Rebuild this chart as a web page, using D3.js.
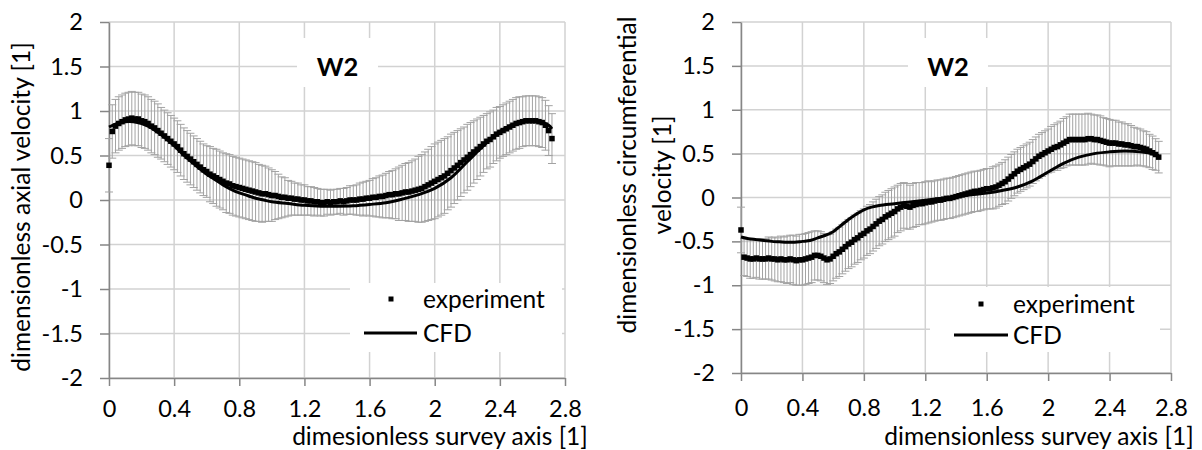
<!DOCTYPE html>
<html>
<head>
<meta charset="utf-8">
<script src="https://cdn.jsdelivr.net/npm/d3@7"></script>
<style>
  body { margin: 0; background: #ffffff; }
  svg { display: block; }
  text { font-family: Lato, "Noto Sans", sans-serif; fill: #000; }
</style>
</head>
<body>
<svg id="chart" width="1202" height="450"></svg>
<script>
// Survey positions of the measured points (dimensionless survey axis)
const surveyX = [
  0, 0.02, 0.04, 0.06, 0.08, 0.1, 0.12, 0.14, 0.16, 0.18,
  0.2, 0.22, 0.24, 0.26, 0.28, 0.3, 0.32, 0.34, 0.36, 0.38,
  0.4, 0.42, 0.44, 0.46, 0.48, 0.5, 0.52, 0.54, 0.56, 0.58,
  0.6, 0.62, 0.64, 0.66, 0.68, 0.7, 0.72, 0.74, 0.76, 0.78,
  0.8, 0.82, 0.84, 0.86, 0.88, 0.9, 0.92, 0.94, 0.96, 0.98,
  1, 1.02, 1.04, 1.06, 1.08, 1.1, 1.12, 1.14, 1.16, 1.18,
  1.2, 1.22, 1.24, 1.26, 1.28, 1.3, 1.32, 1.34, 1.36, 1.38,
  1.4, 1.42, 1.44, 1.46, 1.48, 1.5, 1.52, 1.54, 1.56, 1.58,
  1.6, 1.62, 1.64, 1.66, 1.68, 1.7, 1.72, 1.74, 1.76, 1.78,
  1.8, 1.82, 1.84, 1.86, 1.88, 1.9, 1.92, 1.94, 1.96, 1.98,
  2, 2.02, 2.04, 2.06, 2.08, 2.1, 2.12, 2.14, 2.16, 2.18,
  2.2, 2.22, 2.24, 2.26, 2.28, 2.3, 2.32, 2.34, 2.36, 2.38,
  2.4, 2.42, 2.44, 2.46, 2.48, 2.5, 2.52, 2.54, 2.56, 2.58,
  2.6, 2.62, 2.64, 2.66, 2.68, 2.7, 2.72
];

// Axial velocity, experiment (mean and error half-width)
const axialExp = [
  0.39, 0.77, 0.83, 0.86, 0.88, 0.90, 0.91, 0.92, 0.91, 0.91,
  0.89, 0.88, 0.86, 0.83, 0.81, 0.78, 0.75, 0.72, 0.69, 0.66,
  0.63, 0.60, 0.56, 0.52, 0.49, 0.46, 0.43, 0.40, 0.37, 0.34,
  0.32, 0.29, 0.27, 0.25, 0.23, 0.21, 0.19, 0.18, 0.16, 0.15,
  0.14, 0.13, 0.12, 0.11, 0.10, 0.09, 0.08, 0.07, 0.07, 0.06,
  0.05, 0.05, 0.04, 0.03, 0.03, 0.02, 0.02, 0.01, 0.01, 0.00,
  0.00, -0.01, -0.01, -0.02, -0.02, -0.03, -0.03, -0.02, -0.03, -0.02,
  -0.02, -0.01, -0.02, -0.01, 0.00, 0.00, 0.00, 0.01, 0.01, 0.02,
  0.02, 0.03, 0.03, 0.04, 0.04, 0.05, 0.06, 0.06, 0.07, 0.07,
  0.08, 0.09, 0.09, 0.10, 0.11, 0.12, 0.13, 0.15, 0.17, 0.19,
  0.21, 0.23, 0.25, 0.27, 0.30, 0.33, 0.36, 0.39, 0.42, 0.45,
  0.48, 0.51, 0.54, 0.57, 0.60, 0.63, 0.66, 0.68, 0.71, 0.74,
  0.76, 0.78, 0.80, 0.82, 0.84, 0.86, 0.87, 0.88, 0.89, 0.89,
  0.89, 0.89, 0.88, 0.87, 0.84, 0.78, 0.69
];
const axialErr = [
  0.30, 0.30, 0.30, 0.30, 0.30, 0.30, 0.30, 0.30, 0.30, 0.30,
  0.30, 0.30, 0.30, 0.30, 0.30, 0.30, 0.29, 0.29, 0.29, 0.29,
  0.29, 0.29, 0.29, 0.29, 0.29, 0.29, 0.29, 0.29, 0.29, 0.29,
  0.29, 0.31, 0.31, 0.32, 0.32, 0.32, 0.33, 0.33, 0.33, 0.33,
  0.33, 0.33, 0.33, 0.33, 0.33, 0.33, 0.32, 0.32, 0.31, 0.30,
  0.29, 0.27, 0.25, 0.23, 0.22, 0.20, 0.19, 0.18, 0.18, 0.17,
  0.17, 0.16, 0.16, 0.16, 0.15, 0.15, 0.15, 0.14, 0.14, 0.14,
  0.14, 0.14, 0.15, 0.15, 0.16, 0.16, 0.17, 0.18, 0.19, 0.19,
  0.20, 0.21, 0.22, 0.23, 0.24, 0.25, 0.26, 0.27, 0.28, 0.30,
  0.31, 0.32, 0.33, 0.34, 0.35, 0.37, 0.38, 0.39, 0.40, 0.41,
  0.42, 0.42, 0.42, 0.42, 0.41, 0.41, 0.40, 0.39, 0.38, 0.37,
  0.37, 0.36, 0.35, 0.34, 0.33, 0.32, 0.31, 0.31, 0.30, 0.30,
  0.29, 0.29, 0.29, 0.29, 0.29, 0.29, 0.29, 0.28, 0.28, 0.28,
  0.28, 0.28, 0.28, 0.28, 0.28, 0.28, 0.28
];

// Axial velocity, CFD
const axialCfdX = [0, 0.05, 0.1, 0.15, 0.2, 0.25, 0.3, 0.35, 0.4, 0.45, 0.5, 0.55, 0.6, 0.65, 0.7, 0.75, 0.8, 0.85, 0.9, 0.95,
  1, 1.1, 1.2, 1.3, 1.4, 1.5, 1.6, 1.7, 1.8, 1.9, 2, 2.1, 2.2, 2.3, 2.4, 2.5, 2.55, 2.6, 2.65, 2.7, 2.72];
const axialCfd = [0.82, 0.86, 0.88, 0.88, 0.86, 0.82, 0.76, 0.69, 0.61, 0.52, 0.44, 0.36, 0.29, 0.23, 0.17, 0.12, 0.08, 0.05, 0.02, 0.00,
  -0.02, -0.04, -0.06, -0.07, -0.07, -0.065, -0.05, -0.03, 0.01, 0.06, 0.13, 0.25, 0.43, 0.61, 0.77, 0.86, 0.88, 0.89, 0.88, 0.84, 0.80];

// Circumferential velocity, experiment (mean and error half-width)
const circExp = [
  -0.37, -0.68, -0.69, -0.70, -0.70, -0.69, -0.70, -0.70, -0.70, -0.69,
  -0.70, -0.70, -0.71, -0.70, -0.71, -0.71, -0.70, -0.71, -0.72, -0.71,
  -0.71, -0.70, -0.69, -0.68, -0.66, -0.66, -0.67, -0.69, -0.71, -0.70,
  -0.67, -0.64, -0.62, -0.59, -0.56, -0.53, -0.51, -0.48, -0.46, -0.43,
  -0.41, -0.38, -0.36, -0.33, -0.30, -0.27, -0.25, -0.22, -0.20, -0.18,
  -0.16, -0.13, -0.11, -0.09, -0.10, -0.11, -0.09, -0.08, -0.07, -0.07,
  -0.06, -0.05, -0.05, -0.04, -0.03, -0.03, -0.02, -0.01, -0.01, 0.00,
  0.01, 0.02, 0.03, 0.04, 0.05, 0.06, 0.07, 0.07, 0.08, 0.09,
  0.10, 0.10, 0.11, 0.12, 0.14, 0.16, 0.18, 0.21, 0.24, 0.27,
  0.30, 0.32, 0.34, 0.36, 0.38, 0.41, 0.44, 0.47, 0.49, 0.51,
  0.53, 0.55, 0.57, 0.58, 0.60, 0.62, 0.64, 0.66, 0.66, 0.66,
  0.66, 0.66, 0.66, 0.67, 0.67, 0.66, 0.66, 0.65, 0.64, 0.63,
  0.62, 0.62, 0.62, 0.61, 0.61, 0.60, 0.60, 0.59, 0.58, 0.58,
  0.57, 0.56, 0.55, 0.53, 0.51, 0.49, 0.46
];
const circErr = [
  0.26, 0.21, 0.21, 0.22, 0.22, 0.22, 0.23, 0.23, 0.23, 0.24,
  0.24, 0.25, 0.25, 0.26, 0.26, 0.27, 0.27, 0.28, 0.28, 0.29,
  0.29, 0.29, 0.29, 0.29, 0.28, 0.28, 0.28, 0.28, 0.28, 0.28,
  0.28, 0.28, 0.28, 0.28, 0.28, 0.28, 0.28, 0.28, 0.28, 0.28,
  0.28, 0.28, 0.28, 0.28, 0.28, 0.28, 0.28, 0.28, 0.28, 0.28,
  0.28, 0.27, 0.27, 0.26, 0.26, 0.25, 0.25, 0.25, 0.24, 0.24,
  0.24, 0.24, 0.23, 0.23, 0.23, 0.23, 0.23, 0.23, 0.23, 0.23,
  0.23, 0.23, 0.23, 0.23, 0.23, 0.23, 0.23, 0.23, 0.23, 0.23,
  0.23, 0.23, 0.24, 0.24, 0.24, 0.24, 0.25, 0.25, 0.25, 0.25,
  0.25, 0.25, 0.25, 0.25, 0.25, 0.25, 0.25, 0.25, 0.25, 0.25,
  0.25, 0.26, 0.26, 0.27, 0.27, 0.28, 0.28, 0.29, 0.29, 0.29,
  0.29, 0.29, 0.29, 0.29, 0.28, 0.28, 0.28, 0.28, 0.27, 0.27,
  0.27, 0.26, 0.26, 0.25, 0.25, 0.24, 0.24, 0.23, 0.22, 0.21,
  0.21, 0.20, 0.20, 0.19, 0.19, 0.18, 0.18
];

// Circumferential velocity, CFD
const circCfdX = [0, 0.05, 0.1, 0.15, 0.2, 0.25, 0.3, 0.35, 0.4, 0.45, 0.5, 0.55, 0.6, 0.65, 0.7, 0.75, 0.8, 0.85, 0.9,
  1, 1.1, 1.2, 1.3, 1.4, 1.5, 1.6, 1.7, 1.8, 1.9, 2, 2.1, 2.2, 2.3, 2.4, 2.5, 2.6, 2.7, 2.72];
const circCfd = [-0.45, -0.47, -0.48, -0.49, -0.50, -0.505, -0.51, -0.51, -0.50, -0.49, -0.46, -0.43, -0.39, -0.32, -0.25, -0.19, -0.14, -0.11, -0.09,
  -0.07, -0.05, -0.03, -0.01, 0.01, 0.03, 0.05, 0.08, 0.12, 0.19, 0.29, 0.39, 0.46, 0.50, 0.52, 0.53, 0.52, 0.49, 0.48];

// Axis ticks
const xTicks = [0, 0.4, 0.8, 1.2, 1.6, 2, 2.4, 2.8];
const xTickLabels = ["0", "0.4", "0.8", "1.2", "1.6", "2", "2.4", "2.8"];
const yTicks = [-2, -1.5, -1, -0.5, 0, 0.5, 1, 1.5, 2];
const yTickLabels = ["-2", "-1.5", "-1", "-0.5", "0", "0.5", "1", "1.5", "2"];

const legendLabels = ["experiment", "CFD"];
const panelTitle = "W2";

const svg = d3.select("#chart");
const TICK_FONT = 23.5;
const FONT = 24.5;
const GRID = "#d2d2d2";
const AXIS = "#868686";
const ERRC = "#a3a3a3";

function drawPanel(p) {
  const x = d3.scaleLinear().domain([0, 2.8]).range([p.left, p.right]);
  const y = d3.scaleLinear().domain([-2, 2]).range([p.bottom, p.top]);
  const g = svg.append("g");

  // gridlines
  g.append("g").selectAll("line").data(yTicks).join("line")
    .attr("x1", p.left).attr("x2", p.right)
    .attr("y1", d => y(d)).attr("y2", d => y(d))
    .attr("stroke", GRID).attr("stroke-width", 1.5);
  g.append("g").selectAll("line").data(xTicks).join("line")
    .attr("y1", p.top).attr("y2", p.bottom)
    .attr("x1", d => x(d)).attr("x2", d => x(d))
    .attr("stroke", GRID).attr("stroke-width", 1.5);

  // axes
  const ya = g.append("g").attr("transform", `translate(${p.left},0)`)
    .call(d3.axisLeft(y).tickValues(yTicks).tickFormat((d, i) => yTickLabels[i])
      .tickSize(9).tickSizeOuter(0).tickPadding(17));
  const xa = g.append("g").attr("transform", `translate(0,${p.bottom})`)
    .call(d3.axisBottom(x).tickValues(xTicks).tickFormat((d, i) => xTickLabels[i])
      .tickSize(8).tickSizeOuter(0));
  [ya, xa].forEach(a => {
    a.select(".domain").attr("stroke", AXIS).attr("stroke-width", 1.5);
    a.selectAll(".tick line").attr("stroke", AXIS).attr("stroke-width", 1.5);
    a.selectAll("text").attr("font-size", TICK_FONT).attr("fill", "#000")
      .style("font-family", "Lato, 'Noto Sans', sans-serif");
  });
  xa.selectAll("text").attr("dy", null).attr("y", p.xLabelOffset);

  // panel title on a white patch
  g.append("rect").attr("x", p.titleBox[0]).attr("y", 38)
    .attr("width", p.titleBox[1] - p.titleBox[0]).attr("height", 49).attr("fill", "#fff");
  g.append("text").attr("x", (p.titleBox[0] + p.titleBox[1]) / 2).attr("y", 76)
    .attr("text-anchor", "middle").attr("font-size", 25.5).attr("font-weight", "bold")
    .text(panelTitle);

  // error bars
  const pts = surveyX.map((v, i) => ({ x: v, y: p.exp[i], e: p.err[i] }));
  const cap = 4;
  g.append("g").selectAll("path").data(pts).join("path")
    .attr("d", d => {
      const cx = x(d.x), hi = y(d.y + d.e), lo = y(d.y - d.e);
      return `M${cx - cap},${hi}H${cx + cap}M${cx},${hi}V${lo}M${cx - cap},${lo}H${cx + cap}`;
    })
    .attr("fill", "none").attr("stroke", ERRC).attr("stroke-width", 1);

  // CFD line
  const line = d3.line().x(d => x(d[0])).y(d => y(d[1])).curve(d3.curveCatmullRom.alpha(0.5));
  g.append("path").datum(p.cfdX.map((v, i) => [v, p.cfd[i]]))
    .attr("d", line).attr("fill", "none").attr("stroke", "#000").attr("stroke-width", 3);

  // experiment markers
  const ms = 5.5;
  g.append("g").selectAll("rect").data(pts).join("rect")
    .attr("x", d => x(d.x) - ms / 2).attr("y", d => y(d.y) - ms / 2)
    .attr("width", ms).attr("height", ms).attr("fill", "#000");

  // legend
  const L = p.legend;
  g.append("rect").attr("x", L.x0).attr("y", L.y0).attr("width", L.x1 - L.x0).attr("height", L.y1 - L.y0)
    .attr("fill", "#fff");
  g.append("rect").attr("x", L.mx - 2.5).attr("y", L.my1 - 2.5).attr("width", 5).attr("height", 5).attr("fill", "#000");
  g.append("line").attr("x1", L.lx0).attr("x2", L.lx1).attr("y1", L.my2).attr("y2", L.my2)
    .attr("stroke", "#000").attr("stroke-width", 3);
  g.append("text").attr("x", L.tx).attr("y", L.my1 + 8.5).attr("font-size", FONT).text(legendLabels[0]);
  g.append("text").attr("x", L.tx).attr("y", L.my2 + 8.5).attr("font-size", FONT).text(legendLabels[1]);

  // axis titles
  g.append("text").attr("x", p.xTitle[0]).attr("y", p.xTitle[1]).attr("text-anchor", "middle")
    .attr("font-size", FONT).text(p.xTitleText);
  p.yTitle.forEach(t => {
    g.append("text").attr("transform", `translate(${t.x},${t.y}) rotate(-90)`)
      .attr("text-anchor", "middle").attr("font-size", FONT).text(t.text);
  });
}

drawPanel({
  left: 109, right: 565, top: 22, bottom: 378, xLabelOffset: 39,
  exp: axialExp, err: axialErr, cfdX: axialCfdX, cfd: axialCfd,
  titleBox: [297, 378],
  legend: { x0: 350, x1: 562, y0: 283, y1: 352, mx: 391, my1: 299, my2: 333, lx0: 364, lx1: 417, tx: 423 },
  xTitle: [440, 445], xTitleText: "dimesionless survey axis [1]",
  yTitle: [{ x: 30, y: 207, text: "dimensionless axial velocity [1]" }]
});

drawPanel({
  left: 741, right: 1171, top: 22, bottom: 373, xLabelOffset: 43,
  exp: circExp, err: circErr, cfdX: circCfdX, cfd: circCfd,
  titleBox: [908, 988],
  legend: { x0: 930, x1: 1160, y0: 287, y1: 352, mx: 981, my1: 304, my2: 335, lx0: 954, lx1: 1008, tx: 1013 },
  xTitle: [1039, 445], xTitleText: "dimensionless survey axis [1]",
  yTitle: [{ x: 636, y: 175, text: "dimensionless circumferential" },
           { x: 671, y: 175, text: "velocity [1]" }]
});
</script>
</body>
</html>
